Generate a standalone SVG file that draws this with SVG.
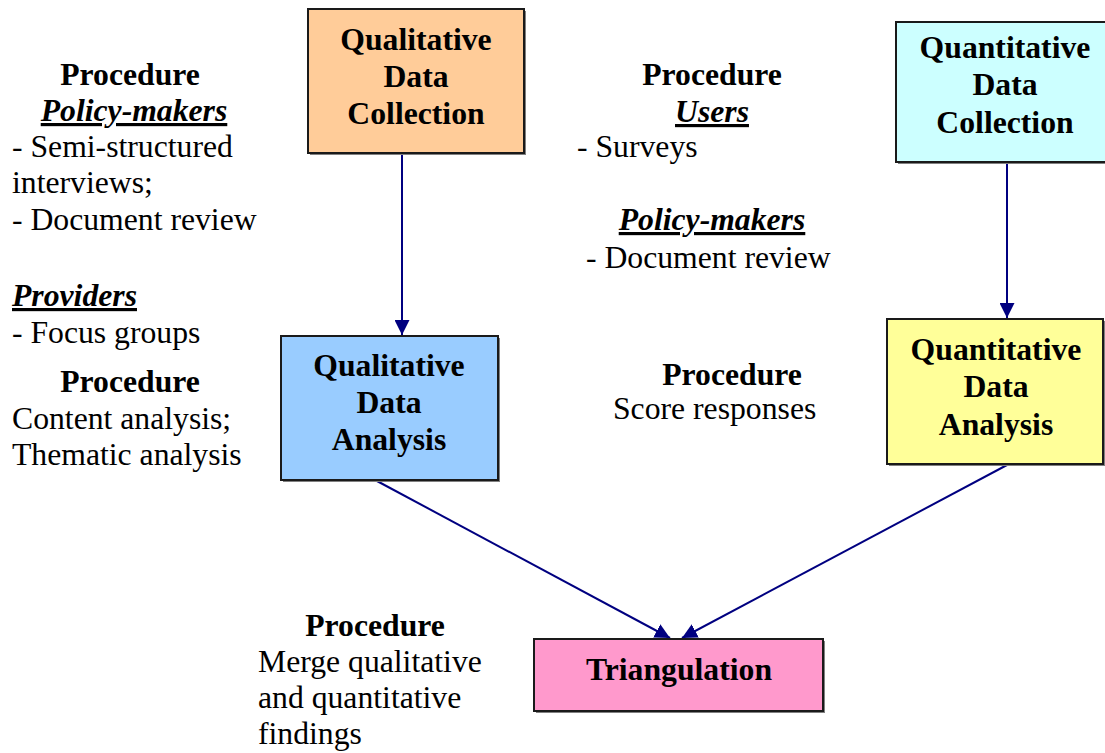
<svg xmlns="http://www.w3.org/2000/svg" width="1105" height="753" viewBox="0 0 1105 753">
  <defs>
    <marker id="arrow" viewBox="0 0 15 15" refX="15" refY="7.5" markerWidth="15" markerHeight="15" markerUnits="userSpaceOnUse" orient="auto">
      <path d="M0,0 L15,7.5 L0,15 z" fill="#000080"/>
    </marker>
  </defs>
  <style>
    text { font-family: "Liberation Serif", "Times New Roman", serif; fill: #000; font-size: 31.7px; }
    .box { stroke: #1a1a1a; stroke-width: 2; }
    .shadow { fill: #808080; }
    .title { font-weight: bold; text-anchor: middle; }
    .head { font-weight: bold; text-anchor: middle; }
    .sub { font-weight: bold; font-style: italic; text-decoration: underline; }
    .conn { stroke: #000080; stroke-width: 2; fill: none; marker-end: url(#arrow); }
  </style>

  <rect width="1105" height="753" fill="#fff"/>

  <!-- connectors -->
  <g id="connectors">
    <line class="conn" x1="402" y1="154" x2="402" y2="335"/>
    <line class="conn" x1="1007" y1="163" x2="1007" y2="318"/>
    <line class="conn" x1="377" y1="481" x2="670" y2="638"/>
    <line class="conn" x1="1007" y1="465" x2="682" y2="638"/>
  </g>

  <!-- qualitative data collection -->
  <g id="qual-collection">
    <rect class="shadow" x="310" y="11" width="216" height="144"/>
    <rect class="box" x="308" y="9" width="216" height="144" fill="#FFCC99"/>
    <text class="title" x="416" y="50">Qualitative</text>
    <text class="title" x="416" y="87">Data</text>
    <text class="title" x="416" y="124">Collection</text>
  </g>

  <!-- quantitative data collection -->
  <g id="quant-collection">
    <rect class="shadow" x="898" y="24" width="212" height="140"/>
    <rect class="box" x="896" y="22" width="212" height="140" fill="#CCFFFF"/>
    <text class="title" x="1005" y="58">Quantitative</text>
    <text class="title" x="1005" y="95">Data</text>
    <text class="title" x="1005" y="133">Collection</text>
  </g>

  <!-- qualitative data analysis -->
  <g id="qual-analysis">
    <rect class="shadow" x="283" y="338" width="217" height="144"/>
    <rect class="box" x="281" y="336" width="217" height="144" fill="#99CCFF"/>
    <text class="title" x="389" y="376">Qualitative</text>
    <text class="title" x="389" y="413">Data</text>
    <text class="title" x="389" y="450">Analysis</text>
  </g>

  <!-- quantitative data analysis -->
  <g id="quant-analysis">
    <rect class="shadow" x="889" y="321" width="216" height="145"/>
    <rect class="box" x="887" y="319" width="216" height="145" fill="#FFFF99"/>
    <text class="title" x="996" y="360">Quantitative</text>
    <text class="title" x="996" y="397">Data</text>
    <text class="title" x="996" y="435">Analysis</text>
  </g>

  <!-- triangulation -->
  <g id="triangulation">
    <rect class="shadow" x="536" y="641" width="289" height="72"/>
    <rect class="box" x="534" y="639" width="289" height="72" fill="#FF99CC"/>
    <text class="title" x="679" y="680">Triangulation</text>
  </g>

  <!-- procedure notes -->
  <g id="note-qual-collection">
    <text class="head" x="130" y="85">Procedure</text>
    <text class="sub" x="134" y="121" text-anchor="middle">Policy-makers</text>
    <text x="12" y="157">- Semi-structured</text>
    <text x="12" y="193">interviews;</text>
    <text x="12" y="230">- Document review</text>
    <text class="sub" x="12" y="306">Providers</text>
    <text x="12" y="343">- Focus groups</text>
  </g>

  <g id="note-qual-analysis">
    <text class="head" x="130" y="392">Procedure</text>
    <text x="12" y="429">Content analysis;</text>
    <text x="12" y="465">Thematic analysis</text>
  </g>

  <g id="note-quant-collection">
    <text class="head" x="712" y="85">Procedure</text>
    <text class="sub" x="712" y="122" text-anchor="middle">Users</text>
    <text x="577" y="157">- Surveys</text>
    <text class="sub" x="712" y="230" text-anchor="middle">Policy-makers</text>
    <text x="586" y="268">- Document review</text>
  </g>

  <g id="note-quant-analysis">
    <text class="head" x="732" y="385">Procedure</text>
    <text x="613" y="419">Score responses</text>
  </g>

  <g id="note-triangulation">
    <text class="head" x="375" y="636">Procedure</text>
    <text x="258" y="672">Merge qualitative</text>
    <text x="258" y="708">and quantitative</text>
    <text x="258" y="744">findings</text>
  </g>
</svg>
